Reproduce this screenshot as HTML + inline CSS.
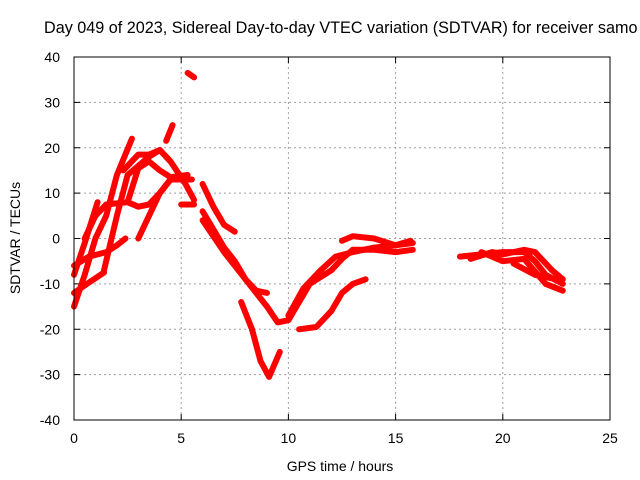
<!DOCTYPE html>
<html><head><meta charset="utf-8"><style>
html,body{margin:0;padding:0;background:#fff;overflow:hidden;}
svg{display:block;font-family:"Liberation Sans",sans-serif;}
</style></head><body>
<svg id="chart" width="640" height="480">
<text x="44" y="33" font-size="16.2">Day 049 of 2023, Sidereal Day-to-day VTEC variation (SDTVAR) for receiver samo</text>
<g id="grid"></g>
<g id="ticks"></g>
<g id="series"></g>
<rect x="74" y="57" width="536" height="363" fill="none" stroke="#000" stroke-width="1"/>
<text x="20" y="238" font-size="14" text-anchor="middle" transform="rotate(-90 20 238)">SDTVAR / TECUs</text>
<text x="340" y="471" font-size="14" text-anchor="middle">GPS time / hours</text>
</svg>
<script>
const xTicks=[0,5,10,15,20,25];
const yTicks=[40,30,20,10,0,-10,-20,-30,-40];
const traceA=[[0,-8],[0.5,-1],[1.1,8]];
const traceB=[[0,-15],[0.5,-8],[1,0],[1.5,5],[2,14],[2.7,22]];
const traceC=[[0,-12],[0.6,-10],[1.4,-7.5]];
const traceD=[[0,-6],[0.7,-4],[1.5,-3],[2,-1.5],[2.4,0]];
const traceE=[[0.5,0],[1,5],[1.5,7.5],[2.5,8],[3,7],[3.5,7.5],[4,10],[4.5,13],[5.5,13]];
const traceF=[[1.4,-7],[2,5],[2.5,14],[3.5,18],[4,19.5],[4.5,17],[5.2,12],[5.6,8.5]];
const traceG=[[2.5,8],[3,15.5],[3.5,17],[4,15],[4.5,13.5],[5.3,14]];
const traceH=[[3,0],[3.5,5],[4,10],[4.5,13]];
const traceI=[[2.3,15],[3,18.5],[3.5,18.5],[4,19.5],[4.5,17]];
const traceJ=[[4.3,21.5],[4.6,25]];
const traceK=[[5.3,36.5],[5.6,35.5]];
const traceL=[[5,7.5],[5.6,7.5]];
const traceM=[[6,12],[6.5,7],[7,3],[7.5,1.5]];
const traceN=[[6,6],[6.5,2],[7,-2],[7.5,-5],[8,-9],[8.5,-11.5],[9,-12]];
const traceO=[[6,4],[7,-3],[8,-9],[9,-15],[9.5,-18.5],[10,-18],[10.5,-14],[11,-10],[12,-7],[12.5,-4.5],[13,-2.5],[14,-2.5],[15,-3],[15.8,-2.5]];
const traceP=[[7.8,-14],[8.3,-20],[8.7,-27],[9.1,-30.5],[9.6,-25]];
const traceQ=[[10,-17],[10.7,-11],[11.5,-7],[12.2,-4],[13,-3],[14,-2],[15,-1.5],[15.8,-1]];
const traceR=[[10.5,-20],[11.3,-19.5],[12,-16],[12.5,-12],[13,-10],[13.6,-9]];
const traceS=[[12.5,-0.5],[13,0.5],[14,0],[15,-1.5],[15.7,-0.5]];
const traceT=[[18,-4],[19,-3.5],[20,-3],[21,-3],[21.5,-5],[22,-8],[22.8,-10]];
const traceU=[[18.5,-4.5],[19.5,-3],[20,-3.5],[21,-2.5],[21.5,-3],[22.3,-7],[22.8,-9]];
const traceV=[[19,-3],[20,-5],[21,-4.5],[22,-10],[22.8,-11.5]];
const traceW=[[20.5,-5.5],[21.5,-8],[22.5,-9]];
const traces=[traceA,traceB,traceC,traceD,traceE,traceF,traceG,traceH,traceI,traceJ,traceK,traceL,traceM,traceN,traceO,traceP,traceQ,traceR,traceS,traceT,traceU,traceV,traceW];

const NS="http://www.w3.org/2000/svg";
const X0=74,X1=610,Y0=420,Y1=57;
function sx(v){return X0+(v-0)/(25-0)*(X1-X0);}
function sy(v){return Y0-(v+40)/80*(Y0-Y1);}
const grid=document.getElementById('grid'),ticks=document.getElementById('ticks'),ser=document.getElementById('series');
function mk(tag,attrs,parent){const e=document.createElementNS(NS,tag);for(const k in attrs)e.setAttribute(k,attrs[k]);parent.appendChild(e);return e;}
xTicks.forEach(t=>{
  const x=sx(t);
  if(t>0&&t<25){const g=mk('line',{x1:x,x2:x,y1:Y1,y2:Y0,stroke:'#a0a0a0','stroke-dasharray':'2,3'},grid);
  
  }
  mk('line',{x1:x,x2:x,y1:Y0,y2:Y0-6,stroke:'#000'},ticks);
  mk('line',{x1:x,x2:x,y1:Y1,y2:Y1+6,stroke:'#000'},ticks);
  const l=mk('text',{x:x,y:443,'font-size':14,'text-anchor':'middle'},ticks);l.textContent=t;
  
  
});
yTicks.forEach(t=>{
  const y=sy(t);
  if(t>-40&&t<40){const g=mk('line',{x1:X0,x2:X1,y1:y,y2:y,stroke:'#a0a0a0','stroke-dasharray':'2,3'},grid);
  
  }
  mk('line',{x1:X0,x2:X0+6,y1:y,y2:y,stroke:'#000'},ticks);
  mk('line',{x1:X1,x2:X1-6,y1:y,y2:y,stroke:'#000'},ticks);
  const l=mk('text',{x:60,y:y+5,'font-size':14,'text-anchor':'end'},ticks);l.textContent=t;
  
  
});
traces.forEach((tr,i)=>{
  const d=tr.map((p,j)=>(j?'L':'M')+sx(p[0]).toFixed(1)+','+sy(p[1]).toFixed(1)).join('');
  const p=mk('path',{d:d,fill:'none',stroke:'#ff0000','stroke-width':6,'stroke-linejoin':'round','stroke-linecap':'round'},ser);
  
  
});
</script>
</body></html>
